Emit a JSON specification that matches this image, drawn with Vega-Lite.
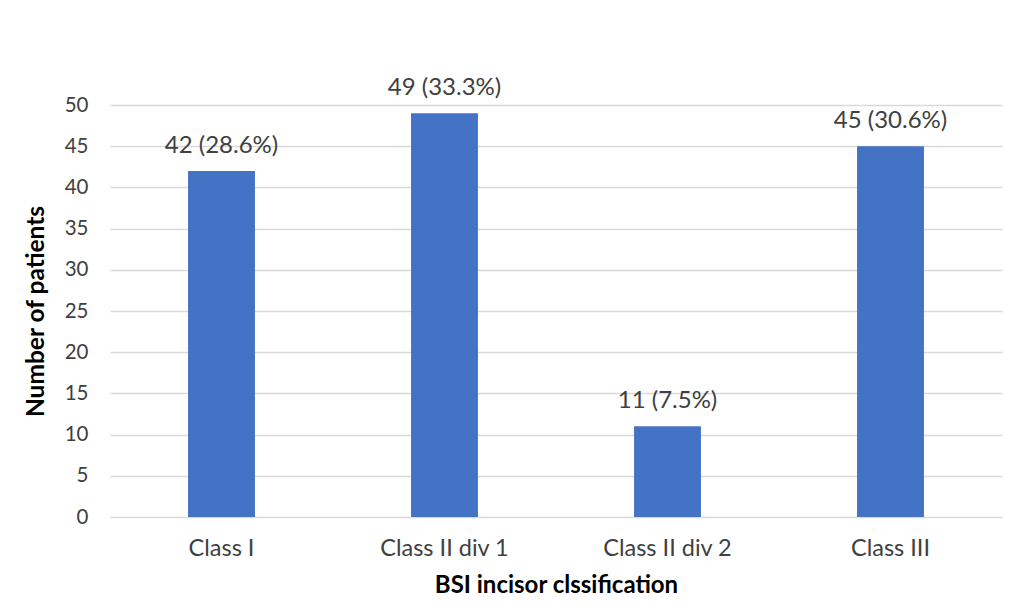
{
  "$schema": "https://vega.github.io/schema/vega-lite/v6.json",
  "width": 892,
  "height": 412,
  "autosize": {"type": "none"},
  "padding": {"left": 110, "top": 105, "right": 12, "bottom": 99},
  "background": "white",
  "config": {
    "font": "Lato",
    "view": {"stroke": null}
  },
  "data": {
    "values": [
      {"cls": "Class I", "n": 42, "label": "42 (28.6%)"},
      {"cls": "Class II div 1", "n": 49, "label": "49 (33.3%)"},
      {"cls": "Class II div 2", "n": 11, "label": "11 (7.5%)"},
      {"cls": "Class III", "n": 45, "label": "45 (30.6%)"}
    ]
  },
  "encoding": {
    "x": {
      "field": "cls", "type": "nominal", "sort": null,
      "scale": {"paddingInner": 0.7, "paddingOuter": 0.35},
      "axis": {
        "title": "BSI incisor clssification",
        "titleFontSize": 24, "titleFontWeight": "bold", "titleColor": "#000000",
        "titlePadding": 14,
        "labelAngle": 0, "labelFontSize": 23.5, "labelColor": "#404040", "labelPadding": 19,
        "ticks": false, "domain": false
      }
    },
    "y": {
      "field": "n", "type": "quantitative",
      "scale": {"domain": [0, 50]},
      "axis": {
        "title": "Number of patients",
        "titleFontSize": 24.5, "titleFontWeight": "bold", "titleColor": "#000000",
        "titlePadding": 16,
        "values": [0, 5, 10, 15, 20, 25, 30, 35, 40, 45, 50],
        "labelFontSize": 20.5, "labelColor": "#404040", "labelPadding": 22,
        "ticks": false, "domain": false,
        "gridColor": "#d9d9d9", "gridWidth": 1.5
      }
    }
  },
  "layer": [
    {"mark": {"type": "bar", "color": "#4472C4"}},
    {
      "mark": {"type": "text", "dy": -13, "fontSize": 24, "color": "#404040", "baseline": "bottom"},
      "encoding": {"text": {"field": "label"}}
    }
  ]
}
